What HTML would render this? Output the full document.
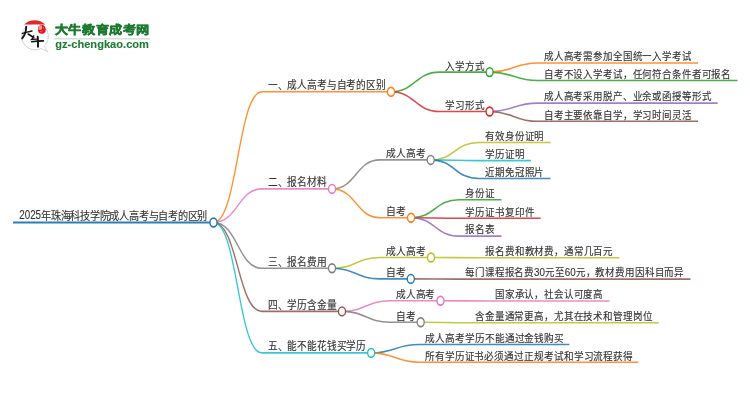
<!DOCTYPE html><html lang="zh-CN"><head><meta charset="utf-8"><style>
html,body{margin:0;padding:0;background:#fff;}
body{width:750px;height:410px;overflow:hidden;position:relative;}
svg{position:absolute;left:0;top:0;will-change:transform;}
.t text{font-family:"Liberation Sans",sans-serif;font-size:10.6px;fill:#333;stroke:#333;stroke-width:0.22;stroke-opacity:0.6}
</style></head><body>
<svg width="750" height="410" viewBox="0 0 750 410">
<g id="logo">
<path d="M21.8,36 A13.3,13.3 0 1 1 44.2,46.2 L47.8,51.8 L41.2,48.4 A13.3,13.3 0 0 1 21.8,36 Z" fill="#fff" stroke="#cfcfcf" stroke-width="0.9"/>
<path d="M24,24.5 A15.3,15.3 0 0 1 45.3,24.5 Z" fill="#e02a2a"/>
<path d="M38.3,26.5 Q40.5,24.8 43.2,25.1 Q45.6,26.2 45.8,29.5 Q46,32.6 43.6,33.6 Q40.6,34.2 38.6,32.4 Q37.5,29.6 38.3,26.5 Z" fill="#e5121a"/>
<path d="M38.8,26.6 Q40.5,25.4 42,25.6 Q42.6,27.8 41.3,29.6 Q39.8,30.4 38.5,29.6 Q38.3,28 38.8,26.6 Z" fill="#f4a0a0"/>
<path d="M41.5,30.2 l1.2,0.8 M43.2,27.2 l0.6,1.4 M40.2,31.6 l1.6,0.2" stroke="#fff" stroke-width="0.5" fill="none" opacity="0.7"/>
<g fill="none" stroke="#141414" stroke-linecap="round">
<path d="M22.4,33.4 Q27,31.9 32,30.9" stroke-width="1.5"/>
<path d="M26.2,26.8 Q26.2,33.6 22.2,38.4" stroke-width="1.9"/>
<path d="M28.2,34 Q30.8,35.6 33.8,37.6" stroke-width="1.6"/>
<path d="M33.8,35.6 Q33.2,37.8 31.6,39.4 L36.6,39.1" stroke-width="1.3"/>
<path d="M31.6,41.7 Q37.5,41 43.4,40.9" stroke-width="1.6"/>
<path d="M37.7,36.6 Q38.1,41.5 38,46.8" stroke-width="1.9"/>
</g>
<text x="54.9" y="34.3" textLength="94.8" lengthAdjust="spacingAndGlyphs" style="font-family:'Liberation Sans',sans-serif;font-size:11.6px;font-weight:bold;fill:#1b7a2e;stroke:#1b7a2e;stroke-width:0.5">大牛教育成考网</text>
<rect x="54.5" y="38.1" width="95.5" height="1.4" fill="#cfe0d2"/>
<text x="55.2" y="47.5" textLength="93.8" lengthAdjust="spacingAndGlyphs" style="font-family:'Liberation Sans',sans-serif;font-size:11.4px;font-weight:bold;fill:#1c7a33;stroke:#1c7a33;stroke-width:0.1">gz-chengkao.com</text>
</g>
<g fill="none" stroke-width="1.35" stroke-opacity="0.85" transform="scale(1,1.2)">
<path d="M13.00,185.375H213.50" stroke="#1f77b4" stroke-width="1.65" stroke-opacity="0.95"/>
<path d="M213.50,185.375C237.75,185.375 237.75,76.500 262.00,76.500H391.00" stroke="#ff7f0e"/>
<path d="M213.50,185.375C237.75,185.375 237.75,157.417 262.00,157.417H332.00" stroke="#e377c2"/>
<path d="M213.50,185.375C237.75,185.375 237.75,223.583 262.00,223.583H332.00" stroke="#7f7f7f"/>
<path d="M213.50,185.375C237.75,185.375 237.75,259.500 262.00,259.500H342.00" stroke="#8c564b"/>
<path d="M213.50,185.375C237.75,185.375 237.75,294.083 262.00,294.083H371.20" stroke="#17becf"/>
<path d="M391.00,76.500C415.20,76.500 415.20,60.083 439.40,60.083H489.60" stroke="#2ca02c"/>
<path d="M391.00,76.500C415.20,76.500 415.20,92.917 439.40,92.917H489.60" stroke="#d62728"/>
<path d="M332.00,157.417C356.00,157.417 356.00,133.250 380.00,133.250H430.70" stroke="#7f7f7f"/>
<path d="M332.00,157.417C356.00,157.417 356.00,181.417 380.00,181.417H411.00" stroke="#ff7f0e"/>
<path d="M332.00,223.583C356.00,223.583 356.00,214.583 380.00,214.583H431.00" stroke="#bcbd22"/>
<path d="M332.00,223.583C356.00,223.583 356.00,232.417 380.00,232.417H410.80" stroke="#1f77b4"/>
<path d="M342.00,259.500C366.00,259.500 366.00,250.667 390.00,250.667H440.50" stroke="#e377c2"/>
<path d="M342.00,259.500C366.00,259.500 366.00,268.500 390.00,268.500H420.70" stroke="#7f7f7f"/>
<path d="M371.20,294.083C395.20,294.083 395.20,287.083 419.20,287.083H569.40" stroke="#1f77b4"/>
<path d="M371.20,294.083C395.20,294.083 395.20,301.833 419.20,301.833H638.20" stroke="#ff7f0e"/>
<path d="M489.60,60.083C513.60,60.083 513.60,52.500 537.60,52.500H698.00" stroke="#ff7f0e"/>
<path d="M489.60,60.083C513.60,60.083 513.60,67.083 537.60,67.083H737.50" stroke="#2ca02c"/>
<path d="M489.60,92.917C513.60,92.917 513.60,85.917 537.60,85.917H717.70" stroke="#9467bd"/>
<path d="M489.60,92.917C513.60,92.917 513.60,101.083 537.60,101.083H698.00" stroke="#8c564b"/>
<path d="M430.70,133.250C454.70,133.250 454.70,118.750 478.70,118.750H550.60" stroke="#bcbd22"/>
<path d="M430.70,133.250C454.70,133.250 454.70,133.833 478.70,133.833H530.90" stroke="#17becf"/>
<path d="M430.70,133.250C454.70,133.250 454.70,148.750 478.70,148.750H550.60" stroke="#1f77b4"/>
<path d="M411.00,181.417C435.00,181.417 435.00,166.500 459.00,166.500H501.50" stroke="#2ca02c"/>
<path d="M411.00,181.417C435.00,181.417 435.00,181.917 459.00,181.917H540.70" stroke="#d62728"/>
<path d="M411.00,181.417C435.00,181.417 435.00,196.750 459.00,196.750H501.50" stroke="#9467bd"/>
<path d="M431.00,214.583C455.00,214.583 455.00,214.750 479.00,214.750H619.40" stroke="#bcbd22"/>
<path d="M410.80,232.417C434.80,232.417 434.80,232.583 458.80,232.583H690.40" stroke="#8c564b"/>
<path d="M440.50,250.667C464.50,250.667 464.50,250.833 488.50,250.833H609.50" stroke="#e377c2"/>
<path d="M420.70,268.500C444.70,268.500 444.70,268.917 468.70,268.917H658.80" stroke="#bcbd22"/>

</g>
<g fill="#fff" stroke-width="1.5">
<circle r="4" transform="translate(213.50,222.45) scale(0.88,1.1)" stroke="#1f77b4"/>
<circle r="4" transform="translate(391.00,91.80) scale(0.88,1.1)" stroke="#ff7f0e"/>
<circle r="4" transform="translate(332.00,188.90) scale(0.88,1.1)" stroke="#e377c2"/>
<circle r="4" transform="translate(332.00,268.30) scale(0.88,1.1)" stroke="#7f7f7f"/>
<circle r="4" transform="translate(342.00,311.40) scale(0.88,1.1)" stroke="#8c564b"/>
<circle r="4" transform="translate(371.20,352.90) scale(0.88,1.1)" stroke="#17becf"/>
<circle r="4" transform="translate(489.60,72.10) scale(0.88,1.1)" stroke="#2ca02c"/>
<circle r="4" transform="translate(489.60,111.50) scale(0.88,1.1)" stroke="#d62728"/>
<circle r="4" transform="translate(430.70,159.90) scale(0.88,1.1)" stroke="#7f7f7f"/>
<circle r="4" transform="translate(411.00,217.70) scale(0.88,1.1)" stroke="#ff7f0e"/>
<circle r="4" transform="translate(431.00,257.50) scale(0.88,1.1)" stroke="#bcbd22"/>
<circle r="4" transform="translate(410.80,278.90) scale(0.88,1.1)" stroke="#1f77b4"/>
<circle r="4" transform="translate(440.50,300.80) scale(0.88,1.1)" stroke="#e377c2"/>
<circle r="4" transform="translate(420.70,322.20) scale(0.88,1.1)" stroke="#7f7f7f"/>
</g>
<g class="t">
<text x="19.30" y="219.45" textLength="21.74" lengthAdjust="spacingAndGlyphs" style="font-size:13.68px">2025</text>
<text x="41.04" y="219.85" textLength="166.16" lengthAdjust="spacingAndGlyphs" style="font-size:11.40px">年珠海科技学院成人高考与自考的区别</text>
<text x="267.70" y="89.10" textLength="118.20" lengthAdjust="spacingAndGlyphs" style="font-size:10.80px">一、成人高考与自考的区别</text>
<text x="267.70" y="186.20" textLength="59.20" lengthAdjust="spacingAndGlyphs" style="font-size:10.80px">二、报名材料</text>
<text x="267.70" y="265.60" textLength="59.20" lengthAdjust="spacingAndGlyphs" style="font-size:10.80px">三、报名费用</text>
<text x="267.70" y="308.70" textLength="69.20" lengthAdjust="spacingAndGlyphs" style="font-size:10.80px">四、学历含金量</text>
<text x="267.70" y="350.20" textLength="98.40" lengthAdjust="spacingAndGlyphs" style="font-size:10.80px">五、能不能花钱买学历</text>
<text x="445.10" y="69.60" textLength="39.40" lengthAdjust="spacingAndGlyphs" style="font-size:10.70px">入学方式</text>
<text x="445.10" y="109.00" textLength="39.40" lengthAdjust="spacingAndGlyphs" style="font-size:10.70px">学习形式</text>
<text x="385.70" y="157.40" textLength="39.90" lengthAdjust="spacingAndGlyphs" style="font-size:10.70px">成人高考</text>
<text x="385.70" y="215.20" textLength="20.20" lengthAdjust="spacingAndGlyphs" style="font-size:10.70px">自考</text>
<text x="385.70" y="255.00" textLength="40.20" lengthAdjust="spacingAndGlyphs" style="font-size:10.70px">成人高考</text>
<text x="385.70" y="276.40" textLength="20.00" lengthAdjust="spacingAndGlyphs" style="font-size:10.70px">自考</text>
<text x="395.70" y="298.30" textLength="39.70" lengthAdjust="spacingAndGlyphs" style="font-size:10.70px">成人高考</text>
<text x="395.70" y="319.70" textLength="19.90" lengthAdjust="spacingAndGlyphs" style="font-size:10.70px">自考</text>
<text x="424.90" y="342.00" textLength="139.40" lengthAdjust="spacingAndGlyphs" style="font-size:10.70px">成人高考学历不能通过金钱购买</text>
<text x="424.90" y="359.70" textLength="208.20" lengthAdjust="spacingAndGlyphs" style="font-size:10.70px">所有学历证书必须通过正规考试和学习流程获得</text>
<text x="543.90" y="60.30" textLength="147.80" lengthAdjust="spacingAndGlyphs" style="font-size:10.60px">成人高考需参加全国统一入学考试</text>
<text x="543.90" y="77.80" textLength="187.30" lengthAdjust="spacingAndGlyphs" style="font-size:10.60px">自考不设入学考试，任何符合条件者可报名</text>
<text x="543.90" y="100.40" textLength="167.50" lengthAdjust="spacingAndGlyphs" style="font-size:10.60px">成人高考采用脱产、业余或函授等形式</text>
<text x="543.90" y="118.60" textLength="147.80" lengthAdjust="spacingAndGlyphs" style="font-size:10.60px">自考主要依靠自学，学习时间灵活</text>
<text x="485.00" y="139.80" textLength="59.30" lengthAdjust="spacingAndGlyphs" style="font-size:10.60px">有效身份证明</text>
<text x="485.00" y="157.90" textLength="39.60" lengthAdjust="spacingAndGlyphs" style="font-size:10.60px">学历证明</text>
<text x="485.00" y="175.80" textLength="59.30" lengthAdjust="spacingAndGlyphs" style="font-size:10.60px">近期免冠照片</text>
<text x="465.30" y="197.10" textLength="29.90" lengthAdjust="spacingAndGlyphs" style="font-size:10.60px">身份证</text>
<text x="465.30" y="215.60" textLength="69.10" lengthAdjust="spacingAndGlyphs" style="font-size:10.60px">学历证书复印件</text>
<text x="465.30" y="233.40" textLength="29.90" lengthAdjust="spacingAndGlyphs" style="font-size:10.60px">报名表</text>
<text x="485.30" y="255.00" textLength="127.80" lengthAdjust="spacingAndGlyphs" style="font-size:10.60px">报名费和教材费，通常几百元</text>
<text x="465.10" y="276.40" textLength="68.98" lengthAdjust="spacingAndGlyphs" style="font-size:10.60px">每门课程报名费</text>
<text x="534.08" y="276.20" textLength="10.96" lengthAdjust="spacingAndGlyphs" style="font-size:11.66px">30</text>
<text x="545.04" y="276.40" textLength="19.71" lengthAdjust="spacingAndGlyphs" style="font-size:10.60px">元至</text>
<text x="564.75" y="276.20" textLength="10.96" lengthAdjust="spacingAndGlyphs" style="font-size:11.66px">60</text>
<text x="575.70" y="276.40" textLength="108.40" lengthAdjust="spacingAndGlyphs" style="font-size:10.60px">元，教材费用因科目而异</text>
<text x="494.80" y="298.30" textLength="108.40" lengthAdjust="spacingAndGlyphs" style="font-size:10.60px">国家承认，社会认可度高</text>
<text x="475.00" y="320.00" textLength="177.50" lengthAdjust="spacingAndGlyphs" style="font-size:10.60px">含金量通常更高，尤其在技术和管理岗位</text>
</g>
</svg>
</body></html>
